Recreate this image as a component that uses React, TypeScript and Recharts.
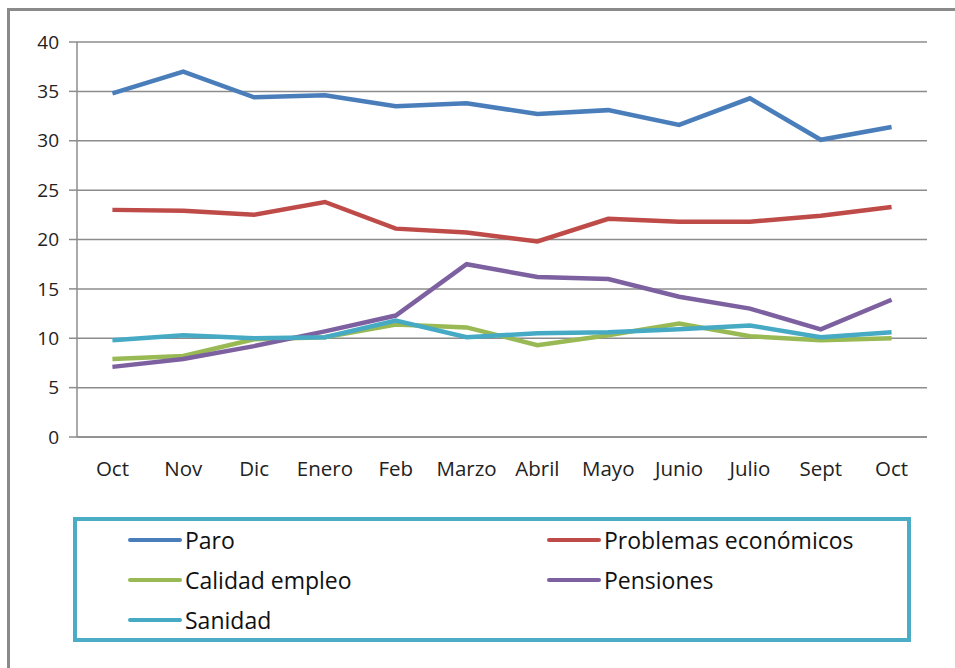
import React from 'react';
import { LineChart, Line, XAxis, YAxis, CartesianGrid } from 'recharts';

const months = ['Oct', 'Nov', 'Dic', 'Enero', 'Feb', 'Marzo', 'Abril', 'Mayo', 'Junio', 'Julio', 'Sept', 'Oct'];

const paro = [34.8, 37.0, 34.4, 34.6, 33.5, 33.8, 32.7, 33.1, 31.6, 34.3, 30.1, 31.4];
const problemasEconomicos = [23.0, 22.9, 22.5, 23.8, 21.1, 20.7, 19.8, 22.1, 21.8, 21.8, 22.4, 23.3];
const calidadEmpleo = [7.9, 8.2, 9.9, 10.1, 11.4, 11.1, 9.3, 10.3, 11.5, 10.2, 9.8, 10.0];
const pensiones = [7.1, 7.9, 9.2, 10.7, 12.3, 17.5, 16.2, 16.0, 14.2, 13.0, 10.9, 13.9];
const sanidad = [9.8, 10.3, 10.0, 10.1, 11.8, 10.1, 10.5, 10.6, 10.9, 11.3, 10.1, 10.6];

const yTicks = [0, 5, 10, 15, 20, 25, 30, 35, 40];

const series = [
	{ key: 'paro', name: 'Paro', color: '#4A7EBB', values: paro },
	{ key: 'problemas', name: 'Problemas económicos', color: '#BE4B48', values: problemasEconomicos },
	{ key: 'calidad', name: 'Calidad empleo', color: '#98B954', values: calidadEmpleo },
	{ key: 'pensiones', name: 'Pensiones', color: '#7D60A0', values: pensiones },
	{ key: 'sanidad', name: 'Sanidad', color: '#46AAC5', values: sanidad },
];

// one row per month, x sits in the middle of its category slot
const data = months.map((m, i) => {
	const row: Record<string, number | string> = { month: m, pos: i + 0.5 };
	series.forEach((s) => {
		row[s.key] = s.values[i];
	});
	return row;
});

const boundaryTicks = months.map((_, i) => i).concat(months.length);
const centerTicks = months.map((_, i) => i + 0.5);

const gridColor = '#8C8C8C';
const font = '"Open Sans", sans-serif';

const legendRows = [
	[series[0], series[1]],
	[series[2], series[3]],
	[series[4]],
];

export default function App() {
	return (
		<div style={{ position: 'fixed', left: 0, top: 0, width: 955, height: 668, overflow: 'hidden', background: '#fff' }}>
			<div
				style={{
					position: 'absolute',
					left: 7,
					top: 8,
					width: 1000,
					height: 700,
					borderLeft: '3px solid #8A8A8A',
					borderTop: '3px solid #8A8A8A',
				}}
			/>
			<div style={{ position: 'absolute', left: 0, top: 0 }}>
				<LineChart width={955} height={490} data={data} margin={{ top: 42, right: 28, bottom: 13, left: 0 }}>
					<CartesianGrid vertical={false} stroke={gridColor} strokeWidth={1.5} />
					<XAxis
						dataKey="pos"
						type="number"
						domain={[0, months.length]}
						ticks={boundaryTicks}
						tick={false}
						tickSize={8}
						height={8}
						stroke={gridColor}
						strokeWidth={1.5}
					/>
					<XAxis
						xAxisId="labels"
						dataKey="pos"
						type="number"
						domain={[0, months.length]}
						ticks={centerTicks}
						tickFormatter={(v: number) => months[Math.floor(v)]}
						axisLine={false}
						tickLine={false}
						tick={{ fill: '#222', fontSize: 20.5, fontFamily: font }}
						tickMargin={10}
						height={32}
						interval={0}
					/>
					<YAxis
						domain={[0, 40]}
						ticks={yTicks}
						width={77}
						tickSize={8}
						tickMargin={10}
						stroke={gridColor}
						strokeWidth={1.5}
						tick={{ fill: '#222', fontSize: 19, fontFamily: font }}
						interval={0}
					/>
					{series.map((s) => (
						<Line
							key={s.key}
							dataKey={s.key}
							name={s.name}
							stroke={s.color}
							strokeWidth={4.5}
							dot={false}
							activeDot={false}
							isAnimationActive={false}
						/>
					))}
				</LineChart>
			</div>
			<div
				style={{
					position: 'absolute',
					left: 73,
					top: 517,
					width: 830,
					height: 117,
					border: '4px solid #4BACC6',
					fontFamily: font,
					fontSize: 23,
					color: '#111',
				}}
			>
				{legendRows.map((row, r) => (
					<div key={r} style={{ position: 'absolute', top: 2 + r * 40, left: 0, height: 34, width: '100%' }}>
						{row.map((s, c) => (
							<div
								key={s.key}
								style={{
									position: 'absolute',
									left: c === 0 ? 51 : 470,
									top: 0,
									display: 'flex',
									alignItems: 'center',
									height: 34,
									whiteSpace: 'nowrap',
								}}
							>
								<span
									style={{
										display: 'inline-block',
										width: 54,
										height: 4,
										borderRadius: 2,
										background: s.color,
										marginRight: 3,
									}}
								/>
								<span>{s.name}</span>
							</div>
						))}
					</div>
				))}
			</div>
		</div>
	);
}
